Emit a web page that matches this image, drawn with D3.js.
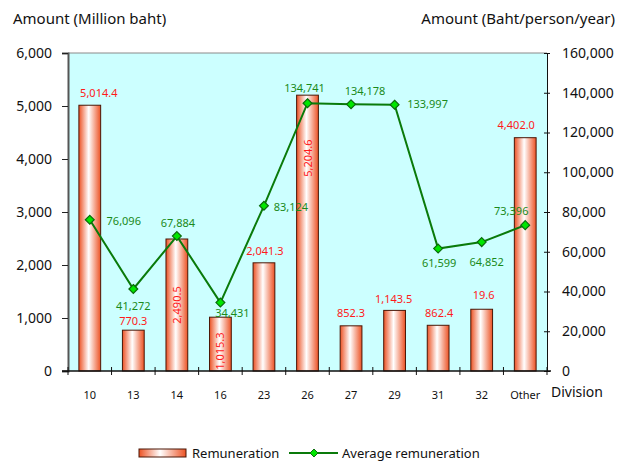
<!DOCTYPE html>
<html>
<head>
<meta charset="utf-8">
<script src="https://cdn.jsdelivr.net/npm/d3@7"></script>
<style>
    body { margin: 0; background: #fff; }
    svg { font-family: "Noto Sans", sans-serif; }
    .barLabel { fill: #ff1a1a; font-size: 11px; }
    .avgLabel { fill: #1a8a1a; font-size: 11px; }
</style>
</head>
<body>
<svg id="chart" width="626" height="461"></svg>
<script>
// data
var categories = ["10", "13", "14", "16", "23", "26", "27", "29", "31", "32", "Other"];
var remuneration = [5014.4, 770.3, 2490.5, 1015.3, 2041.3, 5204.6, 852.3, 1143.5, 862.4, 1165, 4402.0];
var remunerationLabels = ["5,014.4", "770.3", "2,490.5", "1,015.3", "2,041.3", "5,204.6", "852.3", "1,143.5", "862.4", "19.6", "4,402.0"];
var avgRemuneration = [76096, 41272, 67884, 34431, 83124, 134741, 134178, 133997, 61599, 64852, 73396];
var leftTicks = [0, 1000, 2000, 3000, 4000, 5000, 6000];
var rightTicks = [0, 20000, 40000, 60000, 80000, 100000, 120000, 140000, 160000];

// label placement (the original labels were nudged by hand)
var barLabelPos = [
    {dx: 9, dy: -8}, {dx: 0, dy: -5}, {rot: 66}, {rot: 34}, {dx: 1, dy: -8},
    {rot: 63}, {dx: 0, dy: -9}, {dx: -1, dy: -7}, {dx: 1, dy: -8}, {dx: 2, dy: -10}, {dx: -9, dy: -9}
];
var avgLabelPos = [
    [34, 5], [0, 21], [1, -9], [12, 14], [27, 5], [-3, -11], [14, -9], [33, 3], [1, 18], [5, 24], [-14, -10]
];

var svg = d3.select('#chart');
var pLeft = 68, pRight = 547, pTop = 53, pBottom = 371;

var x = d3.scaleBand().domain(categories).range([pLeft, pRight]).paddingInner(0.5).paddingOuter(0.25);
var xBand = d3.scaleBand().domain(categories).range([pLeft, pRight]);
var yL = d3.scaleLinear().domain([0, 6000]).range([pBottom, pTop]);
var yR = d3.scaleLinear().domain([0, 160000]).range([pBottom, pTop]);

// bar gradient
var defs = svg.append('defs');
var grad = defs.append('linearGradient').attr('id', 'barGrad')
    .attr('x1', '0%').attr('x2', '100%').attr('y1', '0%').attr('y2', '0%');
grad.append('stop').attr('offset', '0%').attr('stop-color', '#ec5224');
grad.append('stop').attr('offset', '45%').attr('stop-color', '#ffffff');
grad.append('stop').attr('offset', '100%').attr('stop-color', '#ec5224');

// plot background
svg.append('rect')
    .attr('x', pLeft).attr('y', pTop)
    .attr('width', pRight - pLeft).attr('height', pBottom - pTop)
    .attr('fill', '#ccffff');
svg.append('line')
    .attr('x1', pLeft).attr('x2', pRight).attr('y1', pTop).attr('y2', pTop)
    .attr('stroke', '#8a8a8a');

// bars
svg.selectAll('.bar')
    .data(remuneration)
    .enter()
    .append('rect')
    .attr('class', 'bar')
    .attr('x', function (d, i) { return x(categories[i]); })
    .attr('y', function (d) { return yL(d); })
    .attr('width', x.bandwidth())
    .attr('height', function (d) { return pBottom - yL(d); })
    .attr('fill', 'url(#barGrad)')
    .attr('stroke', '#4a1606')
    .attr('stroke-width', 1);

// left axis
var axL = svg.append('g').attr('transform', 'translate(' + pLeft + ',0)')
    .call(d3.axisLeft(yL).tickValues(leftTicks).tickFormat(d3.format(',')).tickSize(6).tickPadding(10));
axL.select('.domain').attr('stroke', '#555').attr('stroke-width', 2);
axL.selectAll('.tick line').attr('stroke', '#222');
axL.selectAll('text').attr('font-size', 14).attr('font-family', '"Noto Sans", sans-serif').attr('fill', '#111');

// right axis
var axR = svg.append('g').attr('transform', 'translate(' + pRight + ',0)')
    .call(d3.axisRight(yR).tickValues(rightTicks).tickFormat(d3.format(',')).tickSize(3).tickPadding(12));
axR.select('.domain').attr('stroke', '#111');
axR.selectAll('.tick line').attr('x1', -3).attr('stroke', '#111');
axR.selectAll('text').attr('font-size', 14).attr('font-family', '"Noto Sans", sans-serif').attr('fill', '#111');

// bottom axis: ticks sit between categories
var axB = svg.append('g').attr('transform', 'translate(0,' + pBottom + ')');
axB.append('line').attr('x1', pLeft - 6).attr('x2', pRight + 4).attr('stroke', '#111').attr('stroke-width', 1.5);
var bounds = categories.map(function (c) { return xBand(c); }).concat([pRight]);
axB.selectAll('.btick')
    .data(bounds)
    .enter()
    .append('line')
    .attr('class', 'btick')
    .attr('x1', function (d) { return d; }).attr('x2', function (d) { return d; })
    .attr('y1', -4).attr('y2', 4)
    .attr('stroke', '#111');
axB.selectAll('.blabel')
    .data(categories)
    .enter()
    .append('text')
    .attr('class', 'blabel')
    .attr('x', function (d) { return xBand(d) + xBand.bandwidth() / 2; })
    .attr('y', 28)
    .attr('text-anchor', 'middle')
    .attr('font-size', 11)
    .attr('fill', '#111')
    .text(function (d) { return d; });

// average line
var cx = function (i) { return xBand(categories[i]) + xBand.bandwidth() / 2; };
var line = d3.line()
    .x(function (d, i) { return cx(i); })
    .y(function (d) { return yR(d); });
svg.append('path')
    .datum(avgRemuneration)
    .attr('d', line)
    .attr('fill', 'none')
    .attr('stroke', '#0a7a0a')
    .attr('stroke-width', 2);
svg.selectAll('.marker')
    .data(avgRemuneration)
    .enter()
    .append('path')
    .attr('class', 'marker')
    .attr('d', d3.symbol().type(d3.symbolDiamond2).size(50))
    .attr('transform', function (d, i) { return 'translate(' + cx(i) + ',' + yR(d) + ')'; })
    .attr('fill', '#00e600')
    .attr('stroke', '#0a6a0a')
    .attr('stroke-width', 1.2);

// bar labels
svg.selectAll('.barLabel')
    .data(remuneration)
    .enter()
    .append('text')
    .attr('class', 'barLabel')
    .attr('text-anchor', 'middle')
    .attr('transform', function (d, i) {
        var p = barLabelPos[i];
        if (p.rot !== undefined) {
            return 'translate(' + (cx(i) + 4) + ',' + (yL(d) + p.rot) + ') rotate(-90)';
        }
        return 'translate(' + (cx(i) + p.dx) + ',' + (yL(d) + p.dy) + ')';
    })
    .text(function (d, i) { return remunerationLabels[i]; });

// average labels
svg.selectAll('.avgLabel')
    .data(avgRemuneration)
    .enter()
    .append('text')
    .attr('class', 'avgLabel')
    .attr('text-anchor', 'middle')
    .attr('x', function (d, i) { return cx(i) + avgLabelPos[i][0]; })
    .attr('y', function (d, i) { return yR(d) + avgLabelPos[i][1]; })
    .text(function (d) { return d3.format(',')(d); });

// axis titles
svg.append('text').attr('x', 13).attr('y', 24).attr('font-size', 15).attr('fill', '#111')
    .text('Amount (Million baht)');
svg.append('text').attr('x', 615).attr('y', 24).attr('font-size', 15).attr('fill', '#111')
    .attr('text-anchor', 'end').text('Amount (Baht/person/year)');
svg.append('text').attr('x', 551).attr('y', 397).attr('font-size', 14).attr('fill', '#111')
    .text('Division');

// legend
var leg = svg.append('g');
leg.append('rect').attr('x', 139).attr('y', 449).attr('width', 47).attr('height', 8)
    .attr('fill', 'url(#barGrad)').attr('stroke', '#4a1606');
leg.append('text').attr('x', 192).attr('y', 458).attr('font-size', 13).attr('fill', '#111')
    .text('Remuneration');
leg.append('line').attr('x1', 289).attr('x2', 338).attr('y1', 453).attr('y2', 453)
    .attr('stroke', '#0a7a0a').attr('stroke-width', 2);
leg.append('path').attr('d', d3.symbol().type(d3.symbolDiamond2).size(40))
    .attr('transform', 'translate(314,453)')
    .attr('fill', '#00e600').attr('stroke', '#0a6a0a');
leg.append('text').attr('x', 342).attr('y', 458).attr('font-size', 13).attr('fill', '#111')
    .text('Average remuneration');
</script>
</body>
</html>
